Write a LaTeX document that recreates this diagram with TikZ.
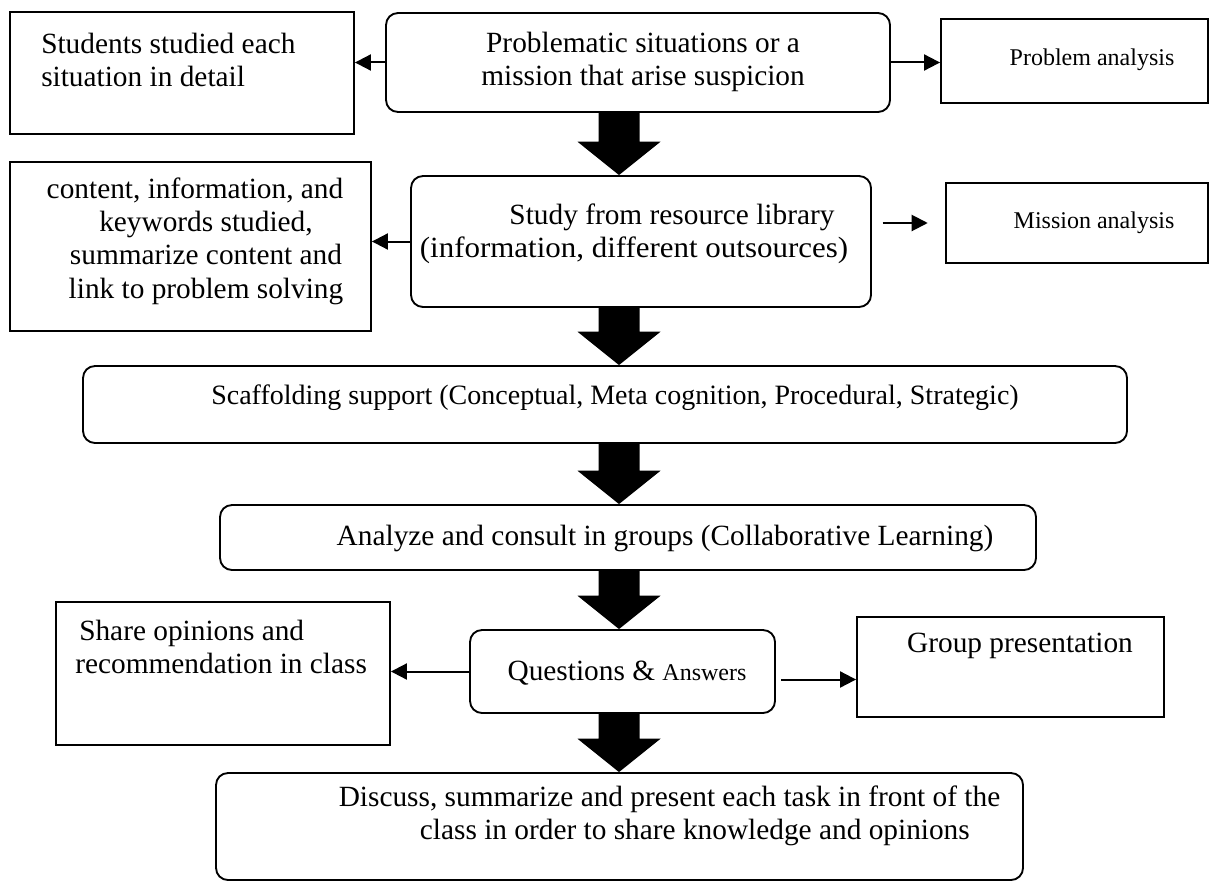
\documentclass[tikz,border=0pt]{standalone}
\usepackage{fontspec}
\setmainfont{Liberation Serif}
\usetikzlibrary{arrows.meta,calc}
\begin{document}
\begin{tikzpicture}[x=0.75pt,y=-0.75pt,
  sqbox/.style={draw,line width=1.4pt,inner sep=0pt},
  rdbox/.style={draw,line width=1.4pt,inner sep=0pt,rounded corners=9pt},
  txt/.style={inner sep=0pt,font=\fontsize{22}{25}\selectfont},
  smalltxt/.style={inner sep=0pt,font=\fontsize{18}{21}\selectfont},
  sarrow/.style={line width=1.5pt,-{Triangle[length=12pt,width=12pt]}}]
\useasboundingbox (0,0) rectangle (1216,881);
\newcommand{\blkarrow}[3]{%
 \fill let \p1=(#1.south), \p2=(#2.north) in
 ({(#3-20.5)*0.75pt},\y1) -- ({(#3+20.5)*0.75pt},\y1) -- ({(#3+20.5)*0.75pt},\y2+25pt)
 -- ({(#3+41.5)*0.75pt},\y2+25pt) -- ({#3*0.75pt},\y2) -- ({(#3-41.5)*0.75pt},\y2+25pt)
 -- ({(#3-20.5)*0.75pt},\y2+25pt) -- cycle;}
% boxes (px: centre, size*0.75)
\node[sqbox,minimum width=258pt,minimum height=91.5pt] (A) at (182,73) {};
\node[rdbox,minimum width=378pt,minimum height=74.25pt] (P) at (638,62.5) {};
\node[sqbox,minimum width=200.25pt,minimum height=63pt] (PA) at (1074.5,61) {};
\node[sqbox,minimum width=270.75pt,minimum height=126.75pt] (B) at (190.5,246.5) {};
\node[rdbox,minimum width=345pt,minimum height=98.25pt] (S) at (641,241.5) {};
\node[sqbox,minimum width=196.5pt,minimum height=60pt] (MA) at (1077,223) {};
\node[rdbox,minimum width=783pt,minimum height=57.75pt] (Sc) at (605,404.5) {};
\node[rdbox,minimum width=612pt,minimum height=48.75pt] (An) at (628,537.5) {};
\node[rdbox,minimum width=228.75pt,minimum height=62.25pt] (Q) at (622.5,671.5) {};
\node[sqbox,minimum width=250.5pt,minimum height=107.25pt] (Sh) at (223,673.5) {};
\node[sqbox,minimum width=230.25pt,minimum height=75pt] (GP) at (1010.5,667) {};
\node[rdbox,minimum width=605.25pt,minimum height=80.25pt] (D) at (619.5,826.5) {};
% texts
\node[txt,anchor=west,align=left] (tA) at (41,60) {Students studied each\\situation in detail};
\node[txt,align=center] (tP) at (643,62) {Problematic situations or a\\mission that arise suspicion};
\node[smalltxt] (tPA) at (1092,60) {Problem analysis};
\node[txt,align=center] (tB) at (206,241) {content, information, and\hspace*{16.5pt}\\keywords studied,\\summarize content and\\link to problem solving};
\node[txt,align=center] (tS) at (634,234) {\hspace*{57pt}Study from resource library\\\scalebox{1.055}[1]{(information, different outsources)}};
\node[smalltxt] (tMA) at (1094,223) {Mission analysis};
\node[txt,font=\fontsize{21}{24}\selectfont] (tSc) at (615,398) {Scaffolding support (Conceptual, Meta cognition, Procedural, Strategic)};
\node[txt] (tAn) at (665,538) {Analyze and consult in groups (Collaborative Learning)};
\node[txt] (tQ) at (627,673) {Questions \& {\fontsize{18}{21}\selectfont Answers}};
\node[txt,anchor=west,align=left] (tSh) at (75,647) {\hspace*{3pt}Share opinions and\\recommendation in class};
\node[txt] (tGP) at (1020,646) {Group presentation};
\node[txt,align=center] (tD) at (669.5,816) {Discuss, summarize and present each task in front of the\\\hspace*{38pt}class in order to share knowledge and opinions};
% small arrows
\draw[sarrow] (P.west) -- (P.west -| A.east);
\draw[sarrow] (P.east) -- (P.east -| PA.west);
\draw[sarrow] (S.west) -- (S.west -| B.east);
\draw[sarrow,shorten <=8pt,shorten >=13pt] (S.east |- MA.west) -- (MA.west);
\draw[sarrow] (Q.west) -- (Q.west -| Sh.east);
\draw[sarrow,shorten <=4pt] ([yshift=-6pt]Q.east) -- ([yshift=-6pt]Q.east -| GP.west);
% block arrows
\blkarrow{P}{S}{619}
\blkarrow{S}{Sc}{619}
\blkarrow{Sc}{An}{619}
\blkarrow{An}{Q}{619}
\blkarrow{Q}{D}{619}
\end{tikzpicture}
\end{document}
